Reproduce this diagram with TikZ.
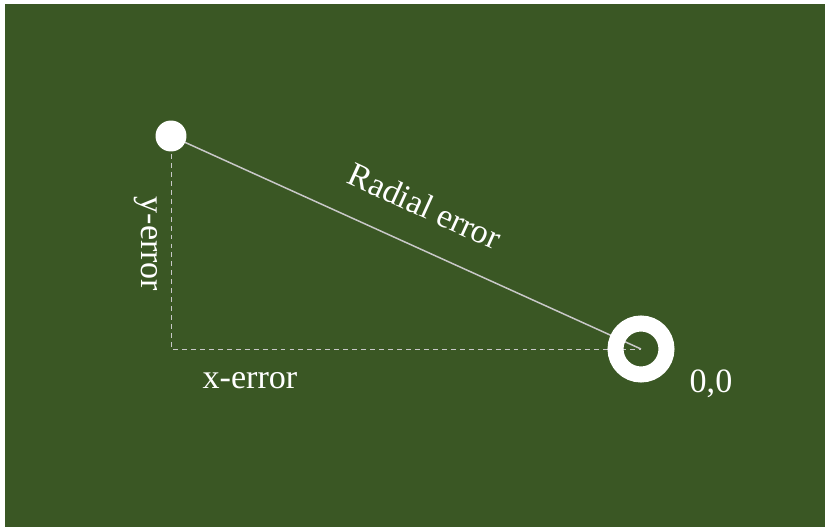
\documentclass[tikz,border=0pt]{standalone}
\usepackage{fontspec}
\setmainfont{Liberation Serif}
\usetikzlibrary{positioning}
\definecolor{fieldgreen}{RGB}{58,87,36}
\definecolor{guide}{RGB}{200,200,200}
\tikzset{
  lbl/.style={text=white, font=\fontsize{19.4}{23}\selectfont, inner sep=0pt},
  shotmark/.style={circle, fill=white, minimum size=0.62cm, inner sep=0pt},
  originmark/.style={circle, draw=white, line width=0.32cm,
    minimum size=1.02cm, inner sep=0pt},
  radialline/.style={draw=guide, line width=0.85pt},
  legline/.style={draw=guide, line width=0.55pt, dash pattern=on 2.8pt off 2.3pt}
}

\begin{document}
\begin{tikzpicture}[x=0.02cm, y=-0.02cm]
  % page and field
  \fill[white] (0,0) rectangle (825,527);
  \fill[fieldgreen] (5,4) rectangle (825,527);
  \useasboundingbox (0,0) rectangle (825,527);

  \coordinate (shot) at (171,136);
  \coordinate (origin) at (641,349);
  \coordinate (corner) at (shot |- origin);

  % error legs, behind the marks
  \draw[legline] (shot) -- (corner) -- (origin);
  \draw[radialline] (shot) -- (origin);

  \node[shotmark] (shotdot) at (shot) {};
  \node[originmark] (origindot) at (origin) {};

  \node[lbl, rotate=-90, anchor=base] (ylbl) at (141,244) {y-error};
  \node[lbl, anchor=base] (xlbl) at (250,388) {x-error};
  \node[lbl, rotate=-24.5] (rlbl) at (425,206) {Radial error};
  \node[lbl, anchor=base] (olbl) at (711,392) {0,0};
\end{tikzpicture}
\end{document}
